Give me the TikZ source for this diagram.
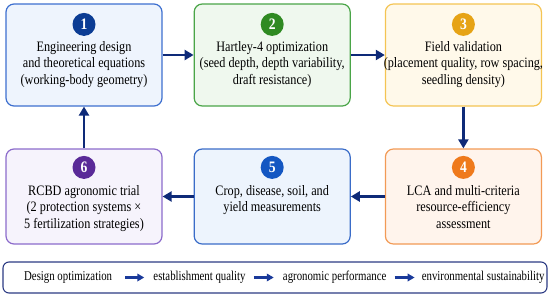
\documentclass[tikz,border=0pt]{standalone}
\usepackage{fontspec}
\setmainfont{Liberation Serif}[FakeStretch=0.85]
\newfontfamily\barfont{Liberation Serif}[FakeStretch=0.8]
\usetikzlibrary{arrows.meta, positioning, calc}
\usepackage{xcolor}
\definecolor{flownavy}{HTML}{0E2A78}
\definecolor{barnavy}{HTML}{2C3B84}
\definecolor{barblue}{HTML}{1A3A9A}
\definecolor{engline}{HTML}{3D6FCF}
\definecolor{engfill}{HTML}{EEF4FD}
\definecolor{engnum}{HTML}{0B3C94}
\definecolor{optline}{HTML}{4AA548}
\definecolor{optfill}{HTML}{EFF8EE}
\definecolor{optnum}{HTML}{2F8A22}
\definecolor{fieldline}{HTML}{F4C453}
\definecolor{fieldfill}{HTML}{FFF9EA}
\definecolor{fieldnum}{HTML}{E6A315}
\definecolor{lcaline}{HTML}{F29A55}
\definecolor{lcafill}{HTML}{FFF4EC}
\definecolor{lcanum}{HTML}{EF7A1C}
\definecolor{cropline}{HTML}{3A6CC8}
\definecolor{cropfill}{HTML}{EDF4FD}
\definecolor{cropnum}{HTML}{1457C2}
\definecolor{trialline}{HTML}{8C6BCB}
\definecolor{trialfill}{HTML}{F6F3FC}
\definecolor{trialnum}{HTML}{5A2A98}
\tikzset{
  stagebox/.style={rectangle, line width=1.2pt, rounded corners=8pt,
                   minimum width=156pt, inner sep=0pt},
  toprow/.style={stagebox, minimum height=102pt},
  lowrow/.style={stagebox, minimum height=95pt},
  numdot/.style={circle, minimum size=23pt, inner sep=0pt, text=white,
                 font=\fontsize{16}{16}\selectfont\bfseries},
  stagetext/.style={align=center, inner sep=0pt,
                    font=\fontsize{14.4}{16.5}\selectfont},
  flowlink/.style={-{Triangle[length=9pt,width=10pt]}, line width=2.6pt, draw=flownavy},
  barlink/.style={-{Triangle[length=7pt,width=7.5pt]}, line width=2.2pt, draw=barblue},
  bartext/.style={inner sep=0pt, font=\barfont\fontsize{13.5}{15}\selectfont},
}
\begin{document}
\begin{tikzpicture}[x=1pt, y=1pt]
  \useasboundingbox (0,0) rectangle (550,-298);

  % Top row: design -> optimization -> field validation
  \node[toprow, draw=engline, fill=engfill]               (eng)   at (84,-55) {};
  \node[toprow, draw=optline, fill=optfill, right=31pt of eng]     (hart)  {};
  \node[toprow, draw=fieldline, fill=fieldfill, right=34pt of hart] (field) {};

  % Bottom row: trial <- measurements <- LCA
  \node[lowrow, draw=trialline, fill=trialfill]           (rcbd)  at (84,-196.5) {};
  \node[lowrow, draw=cropline, fill=cropfill, right=31pt of rcbd]   (crop)  {};
  \node[lowrow, draw=lcaline, fill=lcafill, right=34pt of crop]     (lca)   {};

  % Step numbers
  \node[numdot, fill=engnum]   (n1) at ([yshift=-21pt]eng.north)   {1};
  \node[numdot, fill=optnum]   (n2) at ([yshift=-21pt]hart.north)  {2};
  \node[numdot, fill=fieldnum] (n3) at ([yshift=-21pt]field.north) {3};
  \node[numdot, fill=lcanum]   (n4) at ([yshift=-19pt]lca.north)   {4};
  \node[numdot, fill=cropnum]  (n5) at ([yshift=-19pt]crop.north)  {5};
  \node[numdot, fill=trialnum] (n6) at ([yshift=-19pt]rcbd.north)  {6};

  % Stage texts
  \node[stagetext, below=5pt of n1] (t1) {Engineering design\\and theoretical equations\\(working-body geometry)};
  \node[stagetext, below=5pt of n2] (t2) {Hartley-4 optimization\\(seed depth, depth variability,\\draft resistance)};
  \node[stagetext, below=5pt of n3] (t3) {Field validation\\(placement quality, row spacing,\\seedling density)};
  \node[stagetext, below=6pt of n4] (t4) {LCA and multi-criteria\\resource-efficiency\\assessment};
  \node[stagetext, below=6pt of n5] (t5) {Crop, disease, soil, and\\yield measurements};
  \node[stagetext, below=6pt of n6] (t6) {RCBD agronomic trial\\(2 protection systems \texttimes\\5 fertilization strategies)};

  % Flow arrows
  \draw[flowlink] (eng.east)   -- (hart.west);
  \draw[flowlink] (hart.east)  -- (field.west);
  \draw[flowlink] (field.south) -- (lca.north);
  \draw[flowlink] (lca.west)   -- (crop.east);
  \draw[flowlink] (crop.west)  -- (rcbd.east);
  \draw[flowlink] (rcbd.north) -- (eng.south);

  % Summary bar
  \node[draw=barnavy, line width=1.1pt, rounded corners=6pt, fill=white,
        minimum width=544pt, minimum height=31pt] (bar) at (275,-277.5) {};
  \node[bartext, anchor=west] (d1) at (24,-277.5) {Design optimization};
  \node[bartext, right=41pt of d1] (d2) {establishment quality};
  \node[bartext, right=37pt of d2] (d3) {agronomic performance};
  \node[bartext, right=35pt of d3] (d4) {environmental sustainability};
  \draw[barlink, shorten <=13pt, shorten >=9pt] (d1.east) -- (d2.west);
  \draw[barlink, shorten <=8pt, shorten >=9pt]  (d2.east) -- (d3.west);
  \draw[barlink, shorten <=8pt, shorten >=7pt]  (d3.east) -- (d4.west);
\end{tikzpicture}
\end{document}
